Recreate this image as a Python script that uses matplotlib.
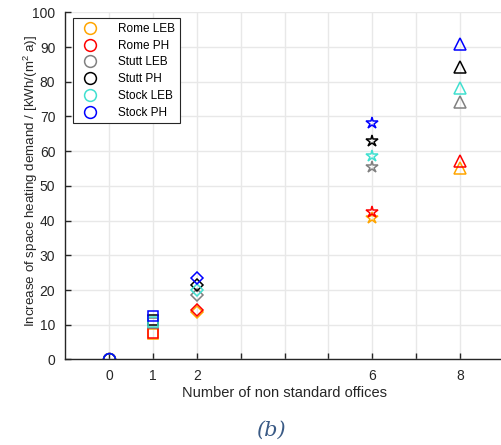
import numpy as np
import matplotlib
matplotlib.use('Agg')
import matplotlib.pyplot as plt

plt.rcParams['font.family'] = ['Liberation Sans', 'DejaVu Sans']
plt.rcParams['mathtext.fontset'] = 'custom'
plt.rcParams['mathtext.rm'] = 'Liberation Sans'
plt.rcParams['mathtext.it'] = 'Liberation Sans:italic'

# number of non standard offices
offices = [0, 1, 2, 6, 8]
markers = ['o', 's', 'D', '*', '^']

series = ['Rome LEB', 'Rome PH', 'Stutt LEB', 'Stutt PH', 'Stock LEB', 'Stock PH']
colors = ['#FFA500', '#FF0000', '#808080', '#000000', '#40E0D0', '#0000FF']

rome_leb = [0, 7.2, 13.7, 40.8, 55.1]
rome_ph = [0, 7.5, 14.3, 42.6, 57.1]
stutt_leb = [0, 10.5, 18.5, 55.5, 74.1]
stutt_ph = [0, 11.3, 21.4, 63.0, 84.3]
stock_leb = [0, 10.8, 20.0, 58.6, 78.2]
stock_ph = [0, 12.4, 23.5, 68.2, 90.9]
values = [rome_leb, rome_ph, stutt_leb, stutt_ph, stock_leb, stock_ph]

xtick_labels = ['0', '1', '2', '', '', '', '6', '', '8']

fig = plt.figure(figsize=(5.02, 4.45), dpi=100)
ax = fig.add_axes([65/502, 85.6/445, 439/502, 347/445])

sizes = {'o': 8.5, 's': 7, 'D': 6, '*': 9, '^': 8.5}
for name, col, vals in zip(series, colors, values):
    for j, (x, y) in enumerate(zip(offices, vals)):
        m = markers[j]
        ax.plot(x, y, linestyle='none', marker=m, markersize=sizes[m],
                markerfacecolor='none', markeredgecolor=col, markeredgewidth=1.1,
                label=name if j == 0 else None)

ax.set_xlim(-1, 9)
ax.set_ylim(0, 100)
ax.set_xticks(np.arange(0, 9))
ax.set_xticklabels(xtick_labels)
ax.set_yticks(np.arange(0, 101, 10))
ax.grid(True, color='#e8e8e8', linewidth=1)
ax.set_axisbelow(True)
ax.tick_params(direction='in', length=4, width=1, labelsize=10, colors='#262626', pad=7)
for s in ['top', 'right']:
    ax.spines[s].set_visible(False)
for s in ['left', 'bottom']:
    ax.spines[s].set_color('#262626')
    ax.spines[s].set_linewidth(1)

ax.set_xlabel('Number of non standard offices', fontsize=10.5, color='#262626', labelpad=2)
ax.set_ylabel(r'Increase of space heating demand / [kWh/(m$^{2}$ a)]', fontsize=9.6,
              color='#262626')
ax.yaxis.set_label_coords(-0.058, 0.515)

leg = ax.legend(loc='upper left', bbox_to_anchor=(0.019, 0.983), fontsize=8.5,
                frameon=True, fancybox=False, edgecolor='#262626', framealpha=1,
                borderaxespad=0, labelspacing=0.4, handletextpad=1.4, borderpad=0.4,
                handlelength=2.0)
leg.get_frame().set_linewidth(0.8)

fig.text(0.54, 0.033, '(b)', fontsize=15, style='italic', family='DejaVu Serif',
         color='#3A5A85', ha='center', va='center')

fig.savefig('out.png', dpi=100)
